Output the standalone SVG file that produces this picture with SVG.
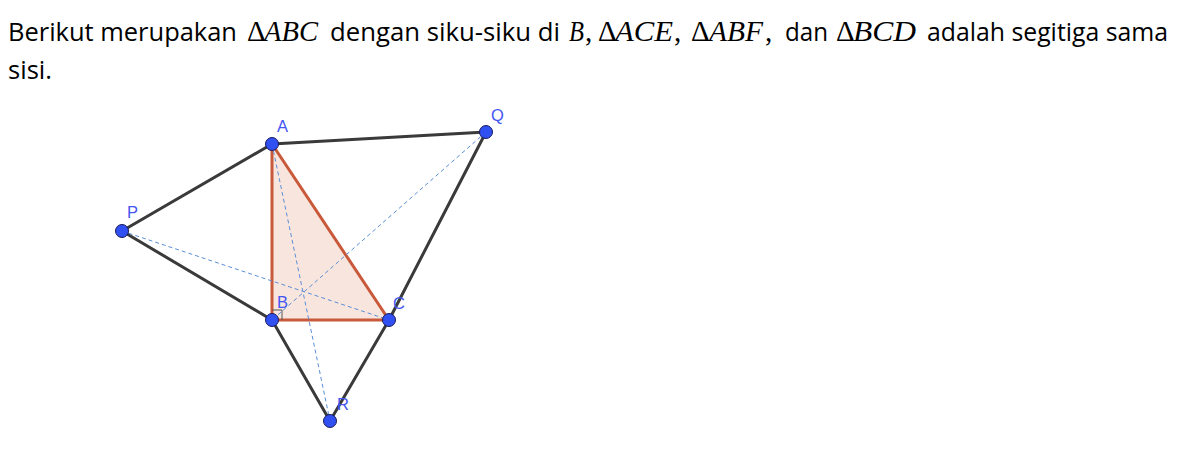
<svg xmlns="http://www.w3.org/2000/svg" width="1181" height="453" viewBox="0 0 1181 453">
<style>
.t{font-family:"Open Sans","Noto Sans","Liberation Sans",sans-serif;font-size:26px;fill:#000}
.m{font-family:"Liberation Serif","DejaVu Serif",serif;font-size:30px;font-style:italic;fill:#000}
.d{font-family:"Liberation Serif","DejaVu Serif",serif;font-size:29px;fill:#000}
.edge{stroke:#3a3a3a;stroke-width:3;fill:none;stroke-linecap:round}
.dash{stroke:#5b8fd6;stroke-width:1;fill:none;stroke-dasharray:4 3}
.tri{stroke:#c8593a;stroke-width:3;fill:#f8e5de;stroke-linejoin:round}
.pt{fill:#3050f2;stroke:#1a1a5a;stroke-width:1}
.lbl{font-family:"Liberation Sans","DejaVu Sans",sans-serif;font-size:16.5px;fill:#4356f2}
</style>
<rect width="1181" height="453" fill="#fff"/>
<g id="caption">
<text class="t" x="8" y="41" textLength="229" lengthAdjust="spacingAndGlyphs">Berikut merupakan</text>
<text class="d" x="247" y="41">Δ</text>
<text class="m" x="264" y="41" textLength="54" lengthAdjust="spacingAndGlyphs">ABC</text>
<text class="t" x="330" y="41" textLength="230" lengthAdjust="spacingAndGlyphs">dengan siku-siku di</text>
<text class="m" x="569" y="41" textLength="15" lengthAdjust="spacingAndGlyphs">B</text>
<text class="d" x="585" y="41">,</text>
<text class="d" x="598" y="41">Δ</text>
<text class="m" x="615" y="41" textLength="58" lengthAdjust="spacingAndGlyphs">ACE</text>
<text class="d" x="674" y="41">,</text>
<text class="d" x="691" y="41">Δ</text>
<text class="m" x="709" y="41" textLength="54" lengthAdjust="spacingAndGlyphs">ABF</text>
<text class="d" x="765" y="41">,</text>
<text class="t" x="785" y="41" textLength="43" lengthAdjust="spacingAndGlyphs">dan</text>
<text class="d" x="836" y="41">Δ</text>
<text class="m" x="853" y="41" textLength="63" lengthAdjust="spacingAndGlyphs">BCD</text>
<text class="t" x="927" y="41" textLength="241" lengthAdjust="spacingAndGlyphs">adalah segitiga sama</text>
<text class="t" x="8" y="79" textLength="44" lengthAdjust="spacingAndGlyphs">sisi.</text>
</g>
<g id="triangle-ABC">
<polygon class="tri" points="272,144 272,320 389,320"/>
<path d="M272,310 H282 V320" fill="none" stroke="#555" stroke-width="1"/>
</g>
<g id="connectors">
<line class="edge" x1="272" y1="144" x2="486" y2="132"/>
<line class="edge" x1="486" y1="132" x2="389" y2="320"/>
<line class="edge" x1="272" y1="144" x2="122" y2="231"/>
<line class="edge" x1="122" y1="231" x2="272" y2="320"/>
<line class="edge" x1="272" y1="320" x2="330" y2="421"/>
<line class="edge" x1="330" y1="421" x2="389" y2="320"/>
<line class="dash" x1="122" y1="231" x2="389" y2="320"/>
<line class="dash" x1="272" y1="144" x2="330" y2="421"/>
<line class="dash" x1="486" y1="132" x2="272" y2="320"/>
</g>
<g id="node-A"><circle class="pt" cx="272" cy="144" r="6.5"/><text class="lbl" x="277" y="132">A</text></g>
<g id="node-Q"><circle class="pt" cx="486" cy="132" r="6.5"/><text class="lbl" x="491" y="121">Q</text></g>
<g id="node-P"><circle class="pt" cx="122" cy="231" r="6.5"/><text class="lbl" x="127" y="218">P</text></g>
<g id="node-B"><circle class="pt" cx="272" cy="320" r="6.5"/><text class="lbl" x="277" y="308">B</text></g>
<g id="node-C"><circle class="pt" cx="389" cy="320" r="6.5"/><text class="lbl" x="393" y="309">C</text></g>
<g id="node-R"><circle class="pt" cx="330" cy="421" r="6.5"/><text class="lbl" x="337" y="410">R</text></g>
</svg>
